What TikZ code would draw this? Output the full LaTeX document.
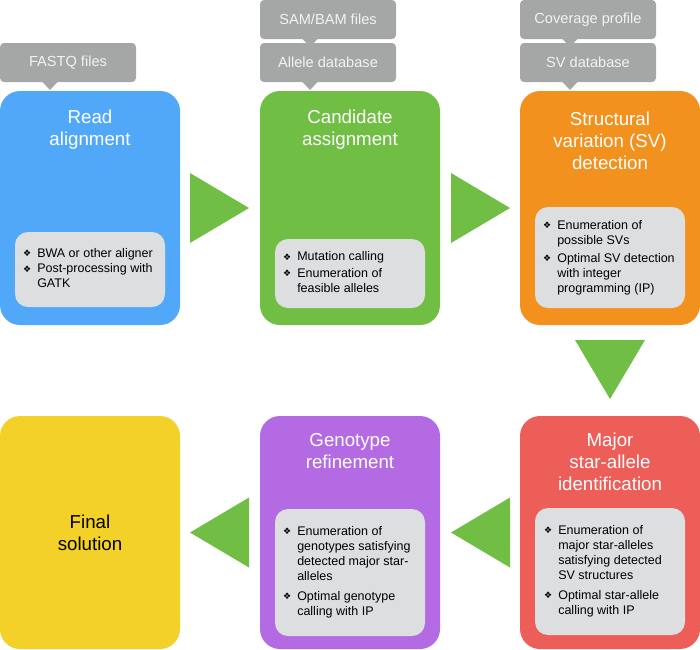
\documentclass[tikz,border=0pt]{standalone}
\usepackage{fontspec}
\setmainfont{Liberation Sans}
\newfontfamily\symfont{DejaVu Sans}
\usetikzlibrary{calc}

\definecolor{cblue}{RGB}{82,168,248}
\definecolor{cgreen}{RGB}{112,190,68}
\definecolor{corange}{RGB}{242,145,30}
\definecolor{cyellow}{RGB}{244,209,41}
\definecolor{cpurple}{RGB}{180,106,226}
\definecolor{cred}{RGB}{236,94,87}
\definecolor{clabel}{RGB}{165,167,166}
\definecolor{clabeltext}{RGB}{242,242,242}
\definecolor{cinner}{RGB}{221,222,224}
\definecolor{carrow}{RGB}{112,190,68}

\newcommand{\bul}{{\symfont\fontsize{9}{9}\selectfont\raisebox{0.6pt}{❖}}}

\tikzset{
  bigbox/.style={rectangle, rounded corners=20pt, minimum width=180pt, inner sep=0pt, outer sep=0pt, anchor=north west},
  innerbox/.style={rectangle, rounded corners=13pt, fill=cinner, minimum width=150pt, inner sep=0pt, outer sep=0pt, anchor=north west},
  lbl/.style={rectangle, rounded corners=4pt, fill=clabel, minimum width=136pt, minimum height=39pt, inner sep=0pt, outer sep=0pt, anchor=north west, text=clabeltext, font=\fontsize{14.6}{16}\selectfont},
  title/.style={align=center, text=white, inner sep=0pt, font=\fontsize{18.7}{22}\selectfont},
  items/.style={anchor=west, inner sep=0pt, align=left, text=black, font=\fontsize{12.5}{15}\selectfont},
  flow/.style={fill=carrow},
}

\begin{document}
\begin{tikzpicture}[x=1pt, y=-1pt]
\useasboundingbox (0,0) rectangle (700,649);

% big boxes
\node[bigbox, fill=cblue,   minimum height=234pt] (ra) at (0,91) {};
\node[bigbox, fill=cgreen,  minimum height=234pt] (ca) at (260,91) {};
\node[bigbox, fill=corange, minimum height=234pt] (sv) at (520,91) {};
\node[bigbox, fill=cyellow, minimum height=233pt] (fs) at (0,416) {};
\node[bigbox, fill=cpurple, minimum height=233pt] (gr) at (260,416) {};
\node[bigbox, fill=cred,    minimum height=233pt] (ms) at (520,416) {};

% titles
\node[title] (rat) at ($(ra.north)+(0,39)$) {Read\\alignment};
\node[title] (cat) at ($(ca.north)+(0,39)$) {Candidate\\assignment};
\node[title] (svt) at ($(sv.north)+(0,50)$) {Structural\\variation (SV)\\detection};
\node[title] (grt) at ($(gr.north)+(0,35)$) {Genotype\\refinement};
\node[title] (mst) at ($(ms.north)+(0,46)$) {Major\\star-allele\\identification};
\node[title, text=black] (fst) at (fs.center) {Final\\solution};

% inner boxes
\node[innerbox, minimum height=75pt]  (rai) at (15,232) {};
\node[innerbox, minimum height=69pt]  (cai) at (275,239) {};
\node[innerbox, minimum height=101pt] (svi) at (535,207) {};
\node[innerbox, minimum height=127pt] (gri) at (275,509) {};
\node[innerbox, minimum height=127pt] (msi) at (535,508) {};

% item lists
\node[items] (rax) at ($(rai.west)+(8,0)$) {\begin{tabular}{@{}l@{\hspace{6pt}}l@{}}
\bul & BWA or other aligner\\[0.5pt]
\bul & Post-processing with\\
     & GATK
\end{tabular}};
\node[items] (cax) at ($(cai.west)+(8,0)$) {\begin{tabular}{@{}l@{\hspace{6pt}}l@{}}
\bul & Mutation calling\\[1.5pt]
\bul & Enumeration of\\
     & feasible alleles
\end{tabular}};
\node[items] (svx) at ($(svi.west)+(8,0)$) {\begin{tabular}{@{}l@{\hspace{6pt}}l@{}}
\bul & Enumeration of\\
     & possible SVs\\[3pt]
\bul & Optimal SV detection\\
     & with integer\\
     & programming (IP)
\end{tabular}};
\node[items] (grx) at ($(gri.west)+(8,0)$) {\begin{tabular}{@{}l@{\hspace{6pt}}l@{}}
\bul & Enumeration of\\
     & genotypes satisfying\\
     & detected major star-\\
     & alleles\\[5pt]
\bul & Optimal genotype\\
     & calling with IP
\end{tabular}};
\node[items] (msx) at ($(msi.west)+(9,0)$) {\begin{tabular}{@{}l@{\hspace{6pt}}l@{}}
\bul & Enumeration of\\
     & major star-alleles\\
     & satisfying detected\\
     & SV structures\\[5pt]
\bul & Optimal star-allele\\
     & calling with IP
\end{tabular}};

% input labels
\node[lbl] (fastq) at (0,43) {FASTQ files};
\node[lbl] (sam) at (260,0) {SAM/BAM files};
\node[lbl] (alleledb) at (260,43) {Allele database};
\node[lbl] (cov) at (520,0) {Coverage profile};
\node[lbl] (svdb) at (520,43) {SV database};

% pointers
\foreach \n/\m in {fastq/ra, sam/alleledb, alleledb/ca, cov/svdb, svdb/sv}{
  \fill[clabel] ($(\n.south west)+(42,-0.5)$) -- ($(\n.south west)+(50,8)$) -- ($(\n.south west)+(58,-0.5)$) -- cycle;
}

% flow arrows
\fill[flow] ($(ra.east)+(10,-35)$) -- ($(ca.west)+(-11,0)$) -- ($(ra.east)+(10,35)$) -- cycle;
\fill[flow] ($(ca.east)+(11,-35)$) -- ($(sv.west)+(-10,0)$) -- ($(ca.east)+(11,35)$) -- cycle;
\fill[flow] ($(sv.south)+(-35,15)$) -- ($(ms.north)+(0,-17)$) -- ($(sv.south)+(35,15)$) -- cycle;
\fill[flow] ($(ms.west)+(-10,-35)$) -- ($(gr.east)+(11,0)$) -- ($(ms.west)+(-10,35)$) -- cycle;
\fill[flow] ($(gr.west)+(-11,-35)$) -- ($(fs.east)+(10,0)$) -- ($(gr.west)+(-11,35)$) -- cycle;

\end{tikzpicture}
\end{document}
